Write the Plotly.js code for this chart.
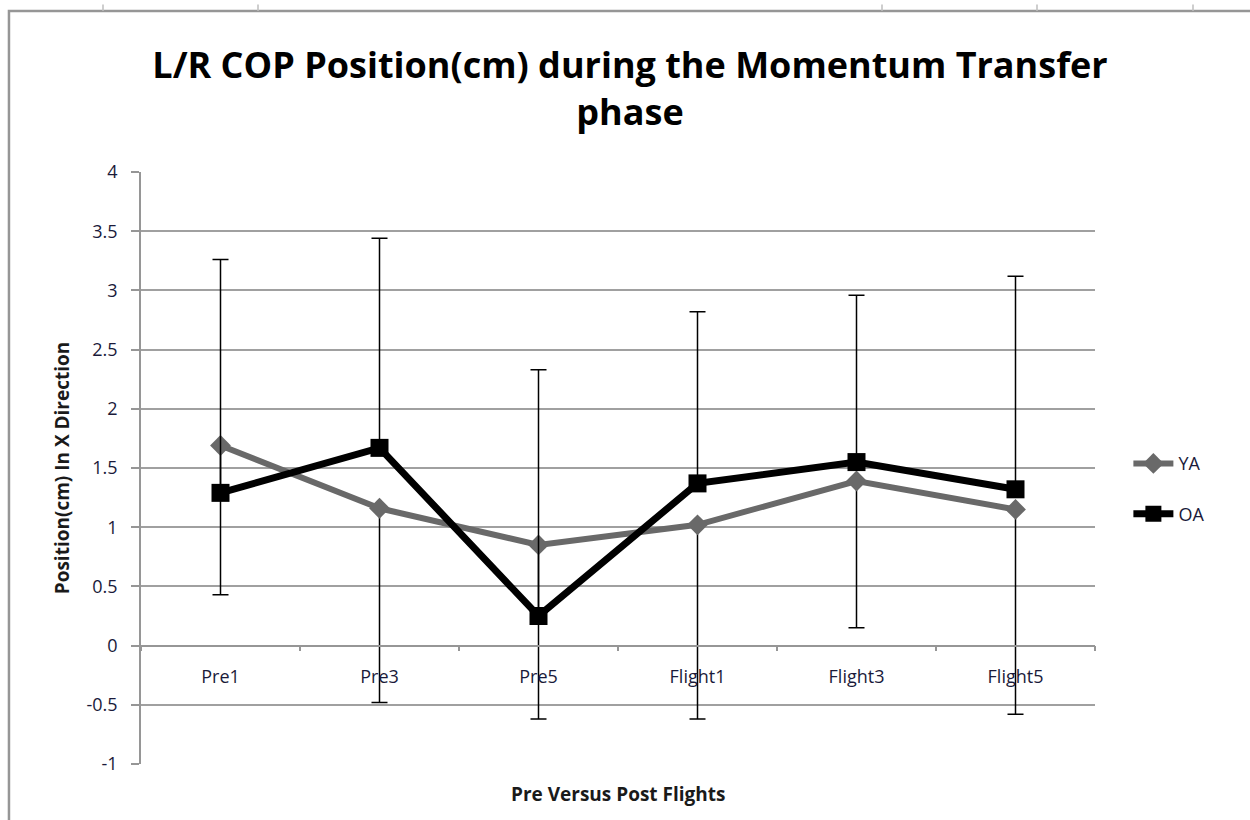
<!DOCTYPE html>
<html>
<head>
<meta charset="utf-8">
<script src="https://cdn.plot.ly/plotly-3.0.1.min.js"></script>
<style>
  html, body { margin: 0; padding: 0; background: #fff; }
  #myDiv { width: 1250px; height: 820px; }
</style>
</head>
<body>
<div id="myDiv"></div>
<script>
var phases = ['Pre1', 'Pre3', 'Pre5', 'Flight1', 'Flight3', 'Flight5'];

// group means
var ya = [1.69, 1.16, 0.85, 1.02, 1.39, 1.15];
var oa = [1.29, 1.67, 0.25, 1.37, 1.55, 1.32];

// error bar ends: OA goes up, YA goes down
var oaTop = [3.26, 3.44, 2.33, 2.82, 2.96, 3.12];
var yaBottom = [0.43, -0.48, -0.62, -0.62, 0.15, -0.58];

// y ticks, written with a plain hyphen like the original
var yTicks = [-1, -0.5, 0, 0.5, 1, 1.5, 2, 2.5, 3, 3.5, 4];
var yTickText = ['-1', '-0.5', '0', '0.5', '1', '1.5', '2', '2.5', '3', '3.5', '4'];

var oaPlus = oa.map(function(v, i) { return oaTop[i] - v; });
var yaMinus = ya.map(function(v, i) { return v - yaBottom[i]; });

var font = '"Open Sans", "DejaVu Sans", sans-serif';

var traceYA = {
  x: phases,
  y: ya,
  name: 'YA',
  legendgroup: 'ya',
  type: 'scatter',
  mode: 'lines+markers',
  line: { color: 'rgb(105,105,105)', width: 6 },
  marker: { symbol: 'diamond', size: 16, color: 'rgb(105,105,105)' },
  error_y: {
    type: 'data',
    symmetric: false,
    array: [0, 0, 0, 0, 0, 0],
    arrayminus: yaMinus,
    color: 'black',
    thickness: 1.5,
    width: 8
  }
};

var traceOA = {
  x: phases,
  y: oa,
  name: 'OA',
  legendgroup: 'oa',
  type: 'scatter',
  mode: 'lines+markers',
  line: { color: 'black', width: 7 },
  marker: { symbol: 'square', size: 18, color: 'black' },
  error_y: {
    type: 'data',
    symmetric: false,
    array: oaPlus,
    arrayminus: [0, 0, 0, 0, 0, 0],
    color: 'black',
    thickness: 1.5,
    width: 8
  }
};

// frame of the chart object and the little sheet column marks above it
var shapes = [{
  type: 'rect', xref: 'paper', yref: 'paper',
  x0: -0.1384, x1: 1.2, y0: -0.2, y1: 1.272,
  line: { color: 'rgb(150,150,150)', width: 2.5 }
}];
[103, 258, 882, 1037, 1193].forEach(function(px) {
  var fx = (px - 141) / 954;
  shapes.push({
    type: 'line', xref: 'paper', yref: 'paper',
    x0: fx, x1: fx, y0: 1.272, y1: 1.283,
    line: { color: 'rgb(190,190,190)', width: 1.5 }
  });
});

var layout = {
  width: 1250,
  height: 820,
  margin: { l: 141, r: 155, t: 172, b: 56 },
  paper_bgcolor: 'white',
  plot_bgcolor: 'white',
  font: { family: font, color: '#1a1a1a', size: 18 },
  title: {
    text: '<b>L/R COP Position(cm) during the Momentum Transfer<br>phase</b>',
    font: { family: font, size: 36, color: 'black' },
    x: 0.504,
    xanchor: 'center',
    y: 0.905,
    yanchor: 'middle'
  },
  xaxis: {
    type: 'category',
    range: [-0.5, 5.5],
    anchor: 'free',
    position: 0.2,
    showline: true,
    linecolor: 'rgb(150,150,150)',
    linewidth: 1.5,
    ticks: 'outside',
    tickson: 'boundaries',
    ticklen: 5,
    tickcolor: 'rgb(150,150,150)',
    tickwidth: 1.5,
    ticklabelstandoff: 15,
    showgrid: false,
    zeroline: false,
    tickfont: { size: 18, color: '#1a1a3a' }
  },
  yaxis: {
    range: [-1, 4],
    tickmode: 'array',
    tickvals: yTicks,
    ticktext: yTickText,
    showline: true,
    linecolor: 'rgb(150,150,150)',
    linewidth: 1.5,
    ticks: 'outside',
    ticklen: 8,
    tickcolor: 'rgb(150,150,150)',
    tickwidth: 1.5,
    ticklabelstandoff: 10,
    showgrid: true,
    gridcolor: 'rgb(160,160,160)',
    gridwidth: 1.5,
    zeroline: false,
    tickfont: { size: 18, color: '#1a1a3a' },
    title: {
      text: '<b>Position(cm) In X Direction</b>',
      font: { size: 19, color: '#1a1a1a' },
      standoff: 12
    }
  },
  legend: {
    x: 1.035,
    y: 0.465,
    xanchor: 'left',
    yanchor: 'middle',
    bgcolor: 'rgba(0,0,0,0)',
    font: { size: 18, color: '#1a1a3a' },
    traceorder: 'grouped',
    tracegroupgap: 24,
    itemwidth: 40
  },
  showlegend: true,
  shapes: shapes,
  annotations: [{
    text: '<b>Pre Versus Post Flights</b>',
    xref: 'paper', yref: 'paper',
    x: 0.5, y: -0.025,
    xanchor: 'center', yanchor: 'top',
    showarrow: false,
    font: { size: 19, color: '#1a1a1a' }
  }]
};

Plotly.newPlot('myDiv', [traceYA, traceOA], layout, { displayModeBar: false });
</script>
</body>
</html>
